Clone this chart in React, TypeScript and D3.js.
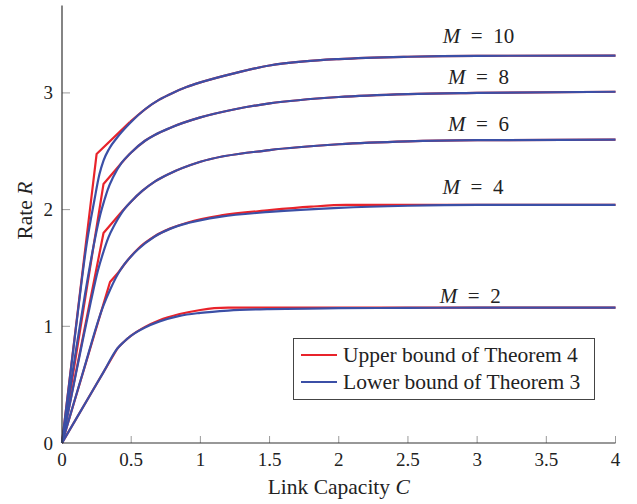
import React from 'react';
import * as d3 from 'd3';

type Pt = [number, number];

const xTicks = [0, 0.5, 1, 1.5, 2, 2.5, 3, 3.5, 4];
const yTicks = [0, 1, 2, 3];
const relayCounts = [2, 4, 6, 8, 10];

// upper bound of Theorem 4, [C, R]
const upperM2: Pt[] = [[0, 0], [0.4, 0.81], [0.45, 0.87], [0.5, 0.92], [0.6, 0.995], [0.7, 1.05], [0.85, 1.105], [1.0, 1.14], [1.1, 1.155], [1.2, 1.16], [4, 1.16]];
const upperM4: Pt[] = [[0, 0], [0.347, 1.38], [0.41, 1.465], [0.45, 1.53], [0.55, 1.665], [0.67, 1.772], [0.78, 1.837], [0.91, 1.89], [1.15, 1.95], [1.5, 1.995], [1.8, 2.025], [2.05, 2.04], [4, 2.04]];
const upperM6: Pt[] = [[0, 0], [0.3, 1.8], [0.43, 1.98], [0.5, 2.07], [0.58, 2.16], [0.67, 2.24], [0.78, 2.31], [1.0, 2.41], [1.5, 2.51], [2, 2.56], [2.5, 2.585], [3, 2.595], [4, 2.6]];
const upperM8: Pt[] = [[0, 0], [0.3, 2.22], [0.43, 2.4], [0.5, 2.49], [0.6, 2.59], [0.78, 2.7], [1.0, 2.79], [1.25, 2.86], [1.5, 2.91], [2, 2.965], [2.5, 2.99], [3, 3.0], [4, 3.01]];
const upperM10: Pt[] = [[0, 0], [0.25, 2.476], [0.49, 2.75], [0.6, 2.86], [0.7, 2.94], [0.8, 3.0], [0.9, 3.05], [1, 3.09], [1.25, 3.17], [1.5, 3.235], [1.75, 3.27], [2, 3.29], [2.5, 3.31], [3, 3.318], [4, 3.32]];

// lower bound of Theorem 3
const lowerM2: Pt[] = [[0, 0], [0.1, 0.2025], [0.2, 0.405], [0.3, 0.6075], [0.4, 0.81], [0.45, 0.87], [0.5, 0.92], [0.6, 0.99], [0.7, 1.04], [0.85, 1.09], [1.0, 1.115], [1.2, 1.135], [1.5, 1.148], [2.0, 1.155], [2.5, 1.158], [3.0, 1.16], [4, 1.16]];
const lowerM4: Pt[] = [[0, 0], [0.05, 0.2], [0.15, 0.6], [0.3, 1.18], [0.35, 1.32], [0.4, 1.44], [0.45, 1.53], [0.55, 1.66], [0.67, 1.77], [0.78, 1.835], [0.91, 1.885], [1.15, 1.94], [1.5, 1.98], [2.0, 2.015], [2.5, 2.033], [3, 2.04], [4, 2.04]];
const lowerM6: Pt[] = [[0, 0], [0.05, 0.295], [0.1, 0.59], [0.15, 0.88], [0.21, 1.22], [0.26, 1.48], [0.3, 1.64], [0.335, 1.76], [0.38, 1.87], [0.43, 1.97], [0.5, 2.07], [0.58, 2.16], [0.67, 2.24], [0.78, 2.31], [1.0, 2.41], [1.5, 2.51], [2.0, 2.56], [2.5, 2.585], [3, 2.595], [4, 2.6]];
const lowerM8: Pt[] = [[0, 0], [0.05, 0.395], [0.1, 0.79], [0.17, 1.3], [0.23, 1.7], [0.275, 1.95], [0.306, 2.08], [0.33, 2.17], [0.37, 2.28], [0.43, 2.4], [0.5, 2.49], [0.6, 2.59], [0.67, 2.64], [0.78, 2.7], [1.0, 2.79], [1.25, 2.86], [1.5, 2.91], [2.0, 2.965], [2.5, 2.99], [3, 3.0], [4, 3.01]];
const lowerM10: Pt[] = [[0, 0], [0.05, 0.49], [0.1, 0.98], [0.18, 1.72], [0.234, 2.08], [0.27, 2.3], [0.3, 2.42], [0.34, 2.52], [0.4, 2.62], [0.49, 2.74], [0.6, 2.86], [0.7, 2.94], [0.8, 3.0], [0.9, 3.05], [1.0, 3.09], [1.25, 3.17], [1.5, 3.235], [1.75, 3.27], [2.0, 3.29], [2.5, 3.31], [3.0, 3.318], [4.0, 3.32]];

const upper = [upperM2, upperM4, upperM6, upperM8, upperM10];
const lower = [lowerM2, lowerM4, lowerM6, lowerM8, lowerM10];

const RED = '#e8232b';
const BLUE = '#3b4fa6';
const FONT = '"Liberation Serif"';

const W = 637;
const H = 504;

// where the "M = k" labels sit, in data units
const labelAt: Pt[] = [[2.95, 1.2], [2.97, 2.135], [3.01, 2.676], [3.01, 3.08], [3.01, 3.43]];
// the upper bound is straight up to its corner, smooth after it
const straightUntil = [1, 2, 2, 2, 2];

const x = d3.scaleLinear().domain([0, 4]).range([62, 615.5]);
const y = d3.scaleLinear().domain([0, 3.75]).range([443, 5.4]);

const straight = d3.line<Pt>()
  .x(d => x(d[0]))
  .y(d => y(d[1]));

const smooth = d3.line<Pt>()
  .x(d => x(d[0]))
  .y(d => y(d[1]))
  .curve(d3.curveMonotoneX);

const txt = (size: number) => ({ fontFamily: FONT, fontSize: size });

export default function App() {
  const [x0, x1] = x.range();
  const [y0, y1] = y.range();

  return (
    <div style={{ position: 'fixed', left: 0, top: 0 }}>
      <svg width={W} height={H} style={{ display: 'block', background: '#fff' }}>
        {/* ticks */}
        <g stroke="#9a9a9a" strokeWidth={1}>
          {xTicks.filter(t => t > 0).map(t => (
            <line key={t} x1={x(t)} x2={x(t)} y1={y0} y2={y0 - 7} />
          ))}
          {yTicks.filter(t => t > 0).map(t => (
            <line key={t} x1={x0} x2={x0 + 8} y1={y(t)} y2={y(t)} />
          ))}
        </g>

        {/* curves */}
        <g fill="none" strokeWidth={2.2} strokeLinejoin="round">
          {upper.map((s, i) => {
            const k = straightUntil[i];
            return (
              <g key={'u' + i} stroke={RED}>
                <path d={straight(s.slice(0, k + 1)) || ''} />
                <path d={smooth(s.slice(k)) || ''} />
              </g>
            );
          })}
          {lower.map((s, i) => (
            <path key={'l' + i} d={smooth(s) || ''} stroke={BLUE} />
          ))}
        </g>

        {/* axis lines */}
        <g stroke="#333" strokeWidth={1.2}>
          <line x1={x0} x2={x0} y1={y0} y2={y1} />
          <line x1={x0} x2={x1} y1={y0} y2={y0} />
        </g>

        {/* tick labels */}
        <g fill="#222">
          {xTicks.map(t => (
            <text key={t} x={x(t)} y={466} textAnchor="middle" style={txt(19)}>{t}</text>
          ))}
          {yTicks.map(t => (
            <text key={t} x={53} y={y(t) + 6.5} textAnchor="end" style={txt(19)}>{t}</text>
          ))}
        </g>

        {/* axis titles */}
        <text x={x(2)} y={494} textAnchor="middle" style={txt(21.5)} fill="#222">
          Link Capacity <tspan fontStyle="italic">C</tspan>
        </text>
        <text transform={`translate(32, ${y(2) + 1}) rotate(-90)`} textAnchor="middle" style={txt(21.5)} fill="#222">
          Rate <tspan fontStyle="italic">R</tspan>
        </text>

        {/* M labels */}
        <g fill="#222">
          {relayCounts.map((m, i) => (
            <text key={m} x={x(labelAt[i][0])} y={y(labelAt[i][1])} textAnchor="middle" style={txt(21)}>
              <tspan fontStyle="italic">M</tspan>{'\u2002=\u2002'}{m}
            </text>
          ))}
        </g>

        {/* legend */}
        <g>
          <rect x={293.5} y={338.5} width={301} height={61} fill="#fff" stroke="#444" strokeWidth={1} />
          <line x1={301} x2={337} y1={355} y2={355} stroke={RED} strokeWidth={2.2} />
          <line x1={301} x2={337} y1={382} y2={382} stroke={BLUE} strokeWidth={2.2} />
          <text x={343} y={362} style={txt(21.5)} fill="#222">Upper bound of Theorem 4</text>
          <text x={343} y={389} style={txt(21.5)} fill="#222">Lower bound of Theorem 3</text>
        </g>
      </svg>
    </div>
  );
}
